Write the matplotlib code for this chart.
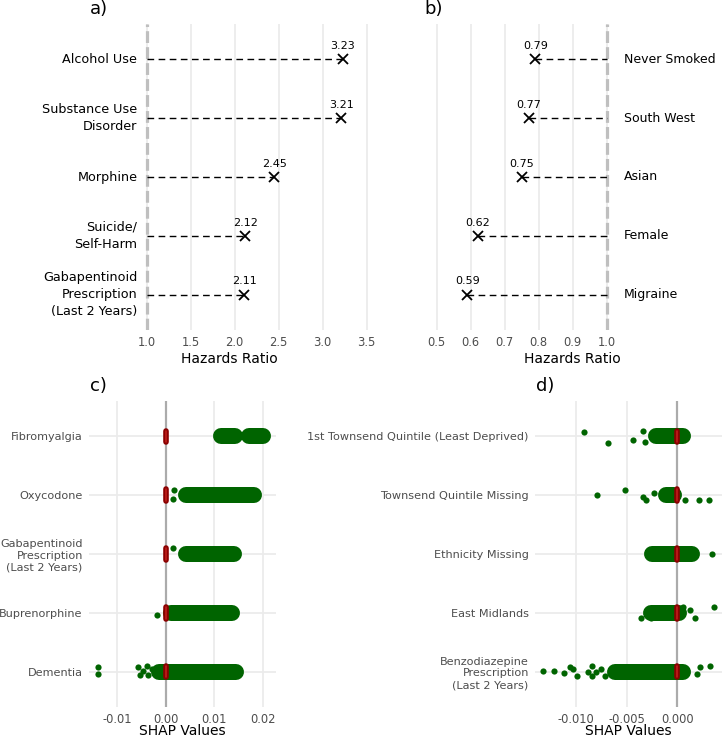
import matplotlib
matplotlib.use("Agg")
import matplotlib.pyplot as plt

plt.rcParams['font.family'] = ['DejaVu Sans']
plt.rcParams['lines.scale_dashes'] = False

# ---------------- data ----------------
a_labels = ['Alcohol Use', 'Substance Use\nDisorder', 'Morphine', 'Suicide/\nSelf-Harm',
            'Gabapentinoid\nPrescription\n(Last 2 Years)']
a_hr = [3.23, 3.21, 2.45, 2.12, 2.11]
a_ticks = [1.0, 1.5, 2.0, 2.5, 3.0, 3.5]

b_labels = ['Never Smoked', 'South West', 'Asian', 'Female', 'Migraine']
b_hr = [0.79, 0.77, 0.75, 0.62, 0.59]
b_ticks = [0.5, 0.6, 0.7, 0.8, 0.9, 1.0]

c_labels = ['Fibromyalgia', 'Oxycodone', 'Gabapentinoid\nPrescription\n(Last 2 Years)',
            'Buprenorphine', 'Dementia']
c_bands = [[(0.0103, 0.0152), (0.0160, 0.0210)],
           [(0.0031, 0.0191)],
           [(0.0031, 0.0151)],
           [(0.0000, 0.0146)],
           [(-0.0024, 0.0154)]]
c_outliers = [[],
              [(0.0017, 0.09), (0.0014, -0.06)],
              [(0.0016, 0.10)],
              [(-0.0017, -0.03)],
              [(-0.0140, 0.075), (-0.0140, -0.04), (-0.0056, 0.075), (-0.0053, -0.055),
               (-0.0046, 0.01), (-0.0039, 0.095), (-0.0036, -0.055), (-0.0028, 0.05)]]
c_mean = [0.0, 0.0, 0.0, 0.0, 0.0]
c_ticks = [-0.01, 0.00, 0.01, 0.02]
c_ticklabels = ['-0.01', '0.00', '0.01', '0.02']

d_labels = ['1st Townsend Quintile (Least Deprived)', 'Townsend Quintile Missing',
            'Ethnicity Missing', 'East Midlands',
            'Benzodiazepine\nPrescription\n(Last 2 Years)']
d_bands = [[(-0.0026, 0.0010)],
           [(-0.0016, 0.0002)],
           [(-0.0030, 0.0019)],
           [(-0.0031, 0.0007)],
           [(-0.0066, 0.0010)]]
d_outliers = [[(-0.0092, 0.08), (-0.0068, -0.11), (-0.0044, -0.06), (-0.0034, 0.085),
               (-0.0032, -0.09)],
              [(-0.0079, 0.01), (-0.0052, 0.085), (-0.0034, -0.03), (-0.0031, -0.085),
               (-0.0023, 0.03), (0.0008, -0.085), (0.0021, -0.085), (0.0031, -0.085)],
              [(0.0034, 0.0)],
              [(0.0036, 0.10), (-0.0036, -0.085), (-0.0026, -0.085), (0.0017, -0.085),
               (0.0013, 0.045), (0.0006, 0.10)],
              [(-0.0132, 0.02), (-0.0122, 0.02), (-0.0112, -0.03), (-0.0106, 0.08),
               (-0.0103, 0.045), (-0.0099, -0.07), (-0.0088, 0.0), (-0.0084, 0.10),
               (-0.0084, -0.07), (-0.0080, 0.0), (-0.0075, 0.045), (-0.0071, -0.07),
               (0.0019, -0.04), (0.0022, 0.075), (0.0032, 0.10)]]
d_mean = [0.0, 0.0, 0.0, 0.0, 0.0]
d_ticks = [-0.010, -0.005, 0.000]
d_ticklabels = ['-0.010', '-0.005', '0.000']

# ---------------- layout ----------------
W, H = 723, 739
DPI = 100
fig = plt.figure(figsize=(W / DPI, H / DPI), dpi=DPI)


def add_ax(l, r, t, b):
    return fig.add_axes([l / W, 1 - b / H, (r - l) / W, (b - t) / H])


GRID = '#ebebeb'
TICKC = '#4d4d4d'
GREEN = '#006400'
PX = 72 / DPI  # points per pixel


def base_style(ax):
    for s in ax.spines.values():
        s.set_visible(False)
    ax.tick_params(length=0, colors=TICKC, labelsize=8.3)
    ax.set_ylim(0.4, 5.6)


ypos = [5, 4, 3, 2, 1]

# ---------- panel a ----------
ax_a = add_ax(90, 368, 24, 330)
base_style(ax_a)
ax_a.set_xlim(1 - (146.7 - 90) / 88, 1 + (368 - 146.7) / 88)
ax_a.set_xticks(a_ticks)
ax_a.set_xticklabels([f'{t:.1f}' for t in a_ticks])
ax_a.set_yticks([])
ax_a.grid(axis='x', color=GRID, lw=1.7 * PX, zorder=0)
ax_a.set_axisbelow(True)
ax_a.axvline(1.0, color='#bfbfbf', lw=3.2 * PX, dashes=(8.5, 3), zorder=1)
for y, v, lab in zip(ypos, a_hr, a_labels):
    ax_a.plot([1.0, v], [y, y], color='black', lw=1.0, dashes=(4.8, 3.2), zorder=2)
    ax_a.plot([v], [y], marker='x', color='black', ms=7.5, mew=1.3, zorder=3)
    ax_a.annotate(f'{v:.2f}', (v, y), xytext=(0, 6), textcoords='offset points',
                  ha='center', va='bottom', fontsize=8)
    ax_a.text(0.893, y, lab, ha='right', va='center', fontsize=9.2,
              multialignment='right', linespacing=1.43)
ax_a.tick_params(axis='x', pad=4.5)
ax_a.set_xlabel('Hazards Ratio', fontsize=10, labelpad=2)
fig.text(90 / W, 1 - 9 / H, 'a)', fontsize=13, ha='left', va='center')

# ---------- panel b ----------
ax_b = add_ax(424, 720, 24, 330)
base_style(ax_b)
ax_b.set_xlim(1 - (606.7 - 424) / 340, 1 + (720 - 606.7) / 340)
ax_b.set_xticks(b_ticks)
ax_b.set_xticklabels([f'{t:.1f}' for t in b_ticks])
ax_b.set_yticks([])
ax_b.grid(axis='x', color=GRID, lw=1.7 * PX, zorder=0)
ax_b.set_axisbelow(True)
ax_b.axvline(1.0, color='#bfbfbf', lw=3.2 * PX, dashes=(8.5, 3), zorder=1)
for y, v, lab in zip(ypos, b_hr, b_labels):
    ax_b.plot([v, 1.0], [y, y], color='black', lw=1.0, dashes=(4.8, 3.2), zorder=2)
    ax_b.plot([v], [y], marker='x', color='black', ms=7.5, mew=1.3, zorder=3)
    ax_b.annotate(f'{v:.2f}', (v, y), xytext=(0, 6), textcoords='offset points',
                  ha='center', va='bottom', fontsize=8)
    ax_b.text(1.051, y, lab, ha='left', va='center', fontsize=9)
ax_b.tick_params(axis='x', pad=4.5)
ax_b.set_xlabel('Hazards Ratio', fontsize=10, labelpad=2)
fig.text(424 / W, 1 - 9 / H, 'b)', fontsize=13, ha='left', va='center')


# ---------- SHAP panels ----------
def shap_panel(ax, l_px, r_px, xmin, xmax, labels, bands, outliers, means,
               ticks, ticklabels, tag, tag_x):
    base_style(ax)
    ax.set_xlim(xmin, xmax)
    ppu = (r_px - l_px) / (xmax - xmin)
    ax.set_xticks(ticks)
    ax.set_xticklabels(ticklabels)
    ax.set_yticks(ypos)
    ax.set_yticklabels(labels, fontsize=8.1, color=TICKC, multialignment='right')
    for t in ax.get_yticklabels():
        t.set_linespacing(1.2)
    ax.tick_params(axis='y', pad=4.5)
    ax.tick_params(axis='x', pad=4, labelsize=8.3)
    ax.grid(True, color=GRID, lw=1.7 * PX, zorder=0)
    ax.set_axisbelow(True)
    ax.axvline(0, color='#ababab', lw=2.2 * PX, zorder=1)
    band_px = 16
    dot_r = 3.1
    shrink = (band_px / 2 - dot_r) / ppu
    for y, blist, olist, m in zip(ypos, bands, outliers, means):
        for lo, hi in blist:
            x1, x2 = lo + shrink, hi - shrink
            if x1 > x2:
                x1 = x2 = (lo + hi) / 2
            ax.plot([x1, x2], [y, y], color=GREEN, lw=band_px * PX,
                    solid_capstyle='round', zorder=2)
        if olist:
            ax.scatter([o[0] for o in olist], [y + o[1] for o in olist],
                       s=(2 * dot_r * PX) ** 2, color=GREEN, linewidths=0, zorder=2)
        half = (8.5 - 2.8) / 59
        ax.plot([m, m], [y - half, y + half], color='#8b0000', lw=5.6 * PX,
                solid_capstyle='round', zorder=4)
        ax.plot([m, m], [y - half, y + half], color='#c0201c', lw=1.6 * PX,
                solid_capstyle='round', zorder=5)
    ax.set_xlabel('SHAP Values', fontsize=10, labelpad=-1)
    fig.text(tag_x / W, 1 - 386 / H, tag, fontsize=13, ha='left', va='center')


ax_c = add_ax(89, 276, 401, 707)
shap_panel(ax_c, 89, 276, (89 - 165.7) / 4870, (276 - 165.7) / 4870,
           c_labels, c_bands, c_outliers, c_mean, c_ticks, c_ticklabels, 'c)', 90)

ax_d = add_ax(535, 722, 401, 707)
shap_panel(ax_d, 535, 722, (535 - 677.3) / 10140, (722 - 677.3) / 10140,
           d_labels, d_bands, d_outliers, d_mean, d_ticks, d_ticklabels, 'd)', 536)

fig.savefig('out.png', dpi=DPI)
